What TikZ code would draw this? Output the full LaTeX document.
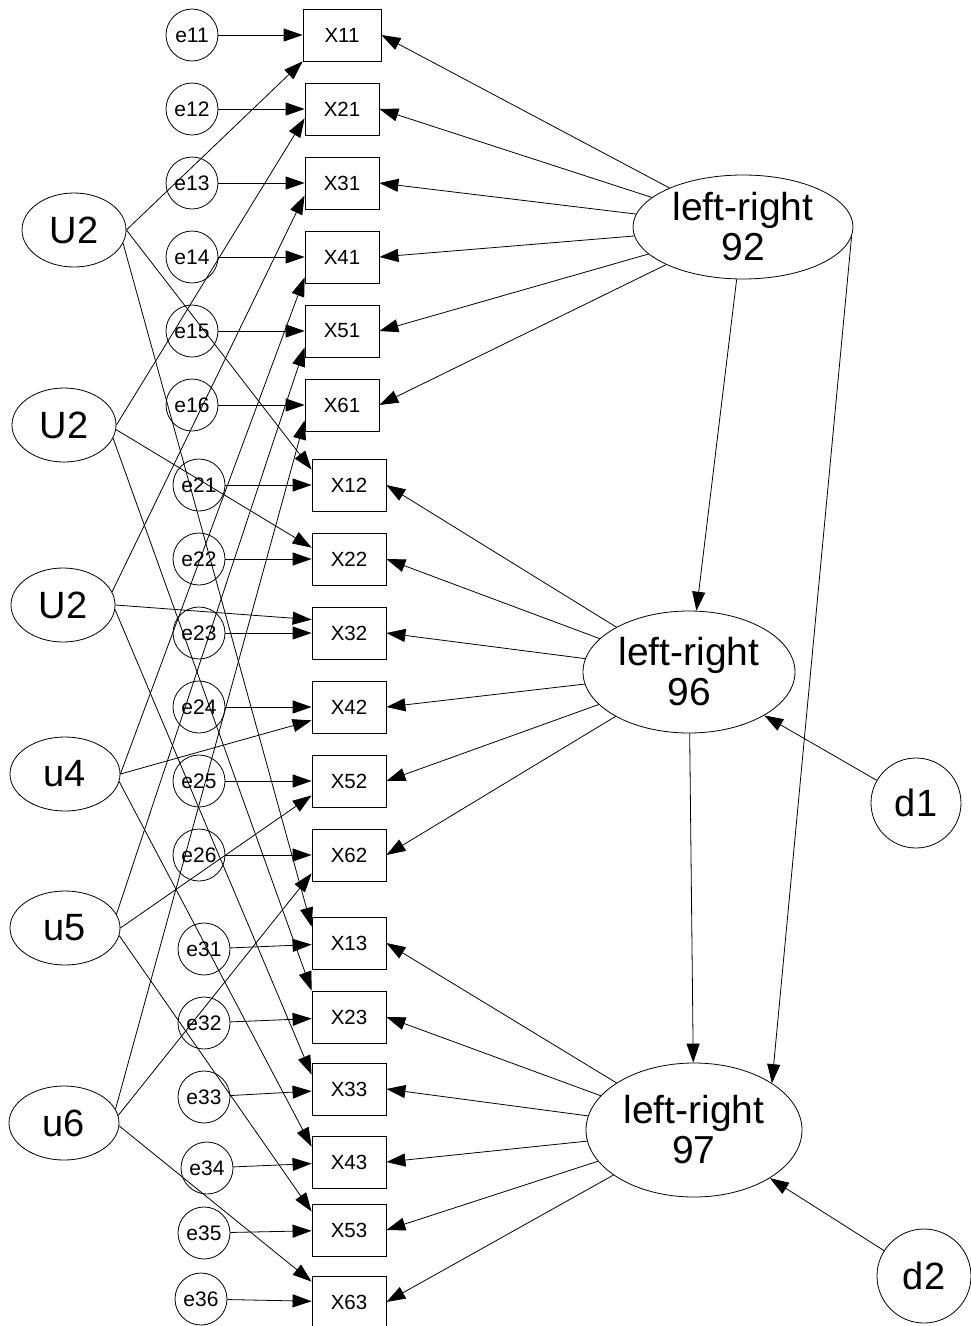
\documentclass[tikz,border=0pt]{standalone}
\usepackage{fontspec}
\setmainfont{Liberation Sans}
\usetikzlibrary{shapes.geometric,arrows.meta,calc}
\begin{document}
\begin{tikzpicture}[x=1pt,y=-1pt,line width=0.8pt,
  every node/.style={inner sep=0pt,line width=0.8pt},
  obs/.style={draw,rectangle,minimum width=74pt,minimum height=52pt,font=\fontsize{20.5}{20.5}\selectfont},
  err/.style={draw,circle,minimum size=52pt,font=\fontsize{21}{21}\selectfont},
  lat/.style={draw,ellipse,minimum width=104pt,minimum height=74pt,font=\fontsize{38}{38}\selectfont},
  bigf/.style={draw,ellipse},
  lrtext/.style={align=center,font=\fontsize{39}{40}\selectfont},
  dist/.style={draw,circle,font=\fontsize{38}{38}\selectfont},
  arr/.style={-{Triangle[length=19pt,width=13pt]}}]
\useasboundingbox (0,0) rectangle (970,1326);
% observed
\node[obs,minimum width=78pt] (X11) at (342,35) {X11};
\node[obs] (X21) at (342,109) {X21};
\node[obs] (X31) at (342,183) {X31};
\node[obs] (X41) at (342,257) {X41};
\node[obs] (X51) at (342,331) {X51};
\node[obs] (X61) at (342,405) {X61};
\node[obs] (X12) at (349,485) {X12};
\node[obs] (X22) at (349,559) {X22};
\node[obs] (X32) at (349,633) {X32};
\node[obs] (X42) at (349,707) {X42};
\node[obs] (X52) at (349,781) {X52};
\node[obs] (X62) at (349,855) {X62};
\node[obs] (X13) at (349,943) {X13};
\node[obs] (X23) at (349,1017) {X23};
\node[obs] (X33) at (349,1089) {X33};
\node[obs] (X43) at (349,1162) {X43};
\node[obs] (X53) at (349,1230) {X53};
\node[obs] (X63) at (349,1302) {X63};
% errors
\node[err] (e11) at (192,35) {e11};
\node[err] (e12) at (192,109) {e12};
\node[err] (e13) at (192,183) {e13};
\node[err] (e14) at (192,257) {e14};
\node[err] (e15) at (192,331) {e15};
\node[err] (e16) at (192,405) {e16};
\node[err] (e21) at (199,485) {e21};
\node[err] (e22) at (199,559) {e22};
\node[err] (e23) at (199,633) {e23};
\node[err] (e24) at (199,707) {e24};
\node[err] (e25) at (199,781) {e25};
\node[err] (e26) at (199,855) {e26};
\node[err] (e31) at (204,949) {e31};
\node[err] (e32) at (204,1023) {e32};
\node[err] (e33) at (204,1097) {e33};
\node[err] (e34) at (207,1168) {e34};
\node[err] (e35) at (204,1233) {e35};
\node[err] (e36) at (201,1299) {e36};
% method factors
\node[lat] (U1) at (74,230) {U2};
\node[lat] (U2b) at (64,425) {U2};
\node[lat] (U3) at (63,605) {U2};
\node[lat,minimum width=110pt] (u4) at (65,774) {u4};
\node[lat,minimum width=110pt] (u5) at (65,928) {u5};
\node[lat,minimum width=110pt] (u6) at (64,1123) {u6};
% trait factors
\node[bigf,minimum width=220pt,minimum height=104pt] (LR92) at (743,227) {};
\node[lrtext] (T92) at (LR92) {left-right\\92};
\node[bigf,minimum width=212pt,minimum height=122pt] (LR96) at (689,672) {};
\node[lrtext] (T96) at (LR96) {left-right\\96};
\node[bigf,minimum width=216pt,minimum height=134pt] (LR97) at (694,1130) {};
\node[lrtext] (T97) at (LR97) {left-right\\97};
\node[dist,minimum size=90pt] (d1) at (916,803) {d1};
\node[dist,minimum size=94pt] (d2) at (924,1276) {d2};
% error arrows
\draw[arr] (e11) -- (X11);
\draw[arr] (e12) -- (X21);
\draw[arr] (e13) -- (X31);
\draw[arr] (e14) -- (X41);
\draw[arr] (e15) -- (X51);
\draw[arr] (e16) -- (X61);
\draw[arr] (e21) -- (X12);
\draw[arr] (e22) -- (X22);
\draw[arr] (e23) -- (X32);
\draw[arr] (e24) -- (X42);
\draw[arr] (e25) -- (X52);
\draw[arr] (e26) -- (X62);
\draw[arr] (e31) -- (X13);
\draw[arr] (e32) -- (X23);
\draw[arr] (e33) -- (X33);
\draw[arr] (e34) -- (X43);
\draw[arr] (e35) -- (X53);
\draw[arr] (e36) -- (X63);
% method loadings
\draw[arr] (U1.east) -- (X11.south west);
\draw[arr] (U1.east) -- ($(X12.north west)+(0,11)$);
\draw[arr] (U1.-15) -- ($(X13.north west)+(0,10)$);
\draw[arr] (U2b.east) -- ($(X21.south west)+(0,-17)$);
\draw[arr] (U2b.-5) -- ($(X22.north west)+(0,15)$);
\draw[arr] (U2b.-15) -- (X23.north west);
\draw[arr] (U3.15) -- ($(X31.south west)+(0,-14)$);
\draw[arr] (U3.east) -- ($(X32.north west)+(0,13)$);
\draw[arr] (U3.-5) -- ($(X33.north west)+(0,12)$);
\draw[arr] (u4.east) -- ($(X41.south west)+(0,-6)$);
\draw[arr] (u4.east) -- ($(X42.south west)+(0,-13)$);
\draw[arr] (u4.-8) -- ($(X43.north west)+(0,11)$);
\draw[arr] (u5.15) -- ($(X51.south west)+(0,-10)$);
\draw[arr] (u5.east) -- ($(X52.south west)+(0,-12)$);
\draw[arr] (u5.-8) -- ($(X53.north west)+(0,8)$);
\draw[arr] (u6.15) -- ($(X61.south west)+(0,-11)$);
\draw[arr] (u6.8) -- ($(X62.south west)+(0,-8)$);
\draw[arr] (u6.-3) -- ($(X63.north west)+(0,6)$);
% trait loadings
\foreach \k in {1,...,6}{
  \draw[arr] (LR92) -- (X\k1.east);
  \draw[arr] (LR96) -- (X\k2.east);
  \draw[arr] (LR97) -- (X\k3.east);
}
% structural
\draw[arr] (LR92) -- (LR96);
\draw[arr] (LR96) -- (LR97);
\draw[arr] (LR92.-5) -- (LR97.31);
\draw[arr] (d1) -- (LR96);
\draw[arr] (d2) -- (LR97);
\end{tikzpicture}
\end{document}
